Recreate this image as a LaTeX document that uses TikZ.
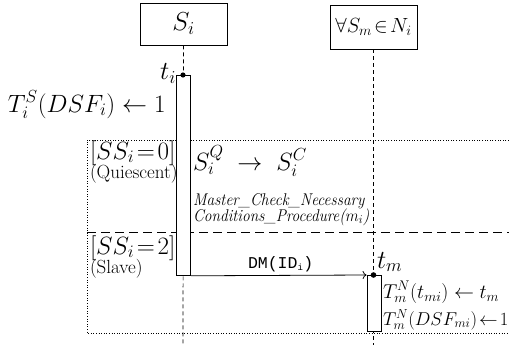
\documentclass[tikz,border=0pt]{standalone}
\usepackage{fix-cm}
\usepackage{fontspec}
\newfontfamily\monofont{Liberation Mono}
\usetikzlibrary{arrows.meta}
\begin{document}
\begin{tikzpicture}[x=1pt,y=-1pt,
  objbox/.style={draw,line width=0.8pt,inner sep=0pt,fill=white},
  lifeline/.style={line width=0.7pt,dash pattern=on 4pt off 3pt},
  actbox/.style={draw,line width=0.8pt,fill=white,inner sep=0pt,minimum width=14pt},
  sepline/.style={line width=1pt,dash pattern=on 9pt off 5pt},
  framel/.style={line width=0.8pt,dash pattern=on 1pt off 1.6pt},
  lbl/.style={inner sep=0pt,outer sep=0pt},
  msg/.style={line width=0.8pt,-{To[length=4pt,width=8pt]}}]
\useasboundingbox (0,0) rectangle (509,345);
% objects
\node[objbox,minimum width=87pt,minimum height=42pt] (si) at (183.5,24) {\fontsize{26}{28}\selectfont$S_i$};
\node[objbox,minimum width=87pt,minimum height=44pt] (sm) at (373.5,27) {\fontsize{20.5}{22}\selectfont$\forall S_m\!\in\! N_i$};
\coordinate (e1) at (183,345);
\coordinate (e2) at (373.5,345);
\draw[lifeline] (si.south) -- (e1);
\draw[lifeline] (sm.south) -- (e2);
% frame
\coordinate (fa) at (509,140);
\coordinate (fb) at (87,140);
\coordinate (fc) at (87,333);
\coordinate (fd) at (509,333);
\draw[framel] (fa) -- (fb) -- (fc) -- (fd);
\coordinate (sa) at (87,232);
\coordinate (sb) at (509,232);
\draw[sepline] (sa) -- (sb);
% activations
\node[actbox,anchor=north,minimum height=200pt] (a1) at (183.75,75) {};
\node[actbox,anchor=north,minimum height=56pt] (a2) at (374,275) {};
\draw[msg] (a1.south east) -- (a2.north west);
\fill (183,75) circle (2.6pt);
\fill (373.5,275) circle (2.8pt);
% labels
\node[lbl,anchor=base east] (ti) at (176,80) {\fontsize{26}{28}\selectfont$t_i$};
\node[lbl,anchor=base west] (tsi) at (8,112) {\fontsize{25}{27}\selectfont$T_i^S(DSF_i)\leftarrow 1$};
\node[lbl,anchor=base west] (ss0) at (90,159) {\fontsize{25}{27}\selectfont$[SS_i\!=\!0]$};
\node[lbl,anchor=base west] (qu) at (90,178.5) {\fontsize{19}{20}\selectfont(Quiescent)};
\node[lbl,anchor=base west] (sqc) at (193,170) {\fontsize{25}{27}\selectfont$S_i^Q\;\rightarrow\;S_i^C$};
\node[lbl,anchor=base west] (mc1) at (193,205) {\scalebox{0.91}[1]{\fontsize{17}{19}\selectfont\itshape Master\_Check\_Necessary}};
\node[lbl,anchor=base west] (mc2) at (193,221) {\scalebox{0.91}[1]{\fontsize{17}{19}\selectfont\itshape Conditions\_Procedure($m_i$)}};
\node[lbl,anchor=base west] (ss2) at (90,254) {\fontsize{25}{27}\selectfont$[SS_i\!=\!2]$};
\node[lbl,anchor=base west] (sl) at (90,273.5) {\fontsize{19}{20}\selectfont(Slave)};
\node[lbl,anchor=base west] (dm) at (248,268) {\fontsize{16.5}{18}\selectfont\monofont DM(ID$_{\mbox{\fontsize{9}{10}\selectfont\monofont i}}$)};
\node[lbl,anchor=base west] (tm) at (377,268) {\fontsize{26}{28}\selectfont$t_m$};
\node[lbl,anchor=base west] (tn1) at (383,298) {\fontsize{20}{21}\selectfont$T_m^N(t_{mi})\leftarrow t_m$};
\node[lbl,anchor=base west] (tn2) at (383,325) {\fontsize{18.6}{21}\selectfont$T_m^N(DSF_{mi})\!\leftarrow\! 1$};
\end{tikzpicture}
\end{document}
